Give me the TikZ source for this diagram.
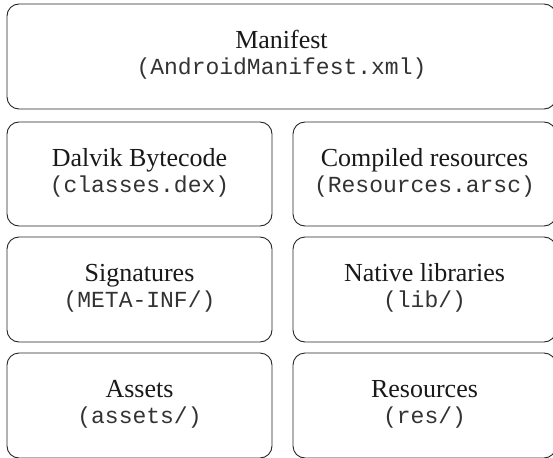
\documentclass[tikz,border=0pt]{standalone}
\usepackage{fontspec}
\setmainfont{Liberation Serif}
\setmonofont{Liberation Mono}
\begin{document}
\begin{tikzpicture}[x=1pt,y=-1pt,
  box/.style={draw=black!85, line width=0.9pt, rounded corners=12pt, fill=white, inner sep=0pt},
  ttl/.style={font=\fontsize{26}{30}\selectfont, anchor=base, inner sep=0pt, text=black!90},
  fname/.style={font=\ttfamily\fontsize{23}{27}\selectfont, anchor=base, inner sep=0pt, text=black!80}]
\useasboundingbox (0,0) rectangle (553,457);
\clip (0,0) rectangle (553,457);
% boxes
\node[box, minimum width=549pt, minimum height=105pt] (man) at (281.5,56.5) {};
\node[box, minimum width=265pt, minimum height=104pt] (dex) at (139.5,174) {};
\node[box, minimum width=263pt, minimum height=104pt] (arsc) at (424.5,174) {};
\node[box, minimum width=265pt, minimum height=105pt] (sig) at (139.5,289.5) {};
\node[box, minimum width=263pt, minimum height=105pt] (lib) at (424.5,289.5) {};
\node[box, minimum width=265pt, minimum height=105pt] (assets) at (139.5,405.5) {};
\node[box, minimum width=263pt, minimum height=105pt] (res) at (424.5,405.5) {};
% texts
\node[ttl] (man-t) at ([yshift=-45pt]man.north) {Manifest};
\node[fname] (man-f) at ([yshift=-71pt]man.north) {(AndroidManifest.xml)};
\node[ttl] (dex-t) at ([yshift=-45pt]dex.north) {Dalvik Bytecode};
\node[fname] (dex-f) at ([yshift=-71pt]dex.north) {(classes.dex)};
\node[ttl] (arsc-t) at ([yshift=-45pt]arsc.north) {Compiled resources};
\node[fname] (arsc-f) at ([yshift=-71pt]arsc.north) {(Resources.arsc)};
\node[ttl] (sig-t) at ([yshift=-45pt]sig.north) {Signatures};
\node[fname] (sig-f) at ([yshift=-71pt]sig.north) {(META-INF/)};
\node[ttl] (lib-t) at ([yshift=-45pt]lib.north) {Native libraries};
\node[fname] (lib-f) at ([yshift=-71pt]lib.north) {(lib/)};
\node[ttl] (assets-t) at ([yshift=-45pt]assets.north) {Assets};
\node[fname] (assets-f) at ([yshift=-71pt]assets.north) {(assets/)};
\node[ttl] (res-t) at ([yshift=-45pt]res.north) {Resources};
\node[fname] (res-f) at ([yshift=-71pt]res.north) {(res/)};
\end{tikzpicture}
\end{document}
